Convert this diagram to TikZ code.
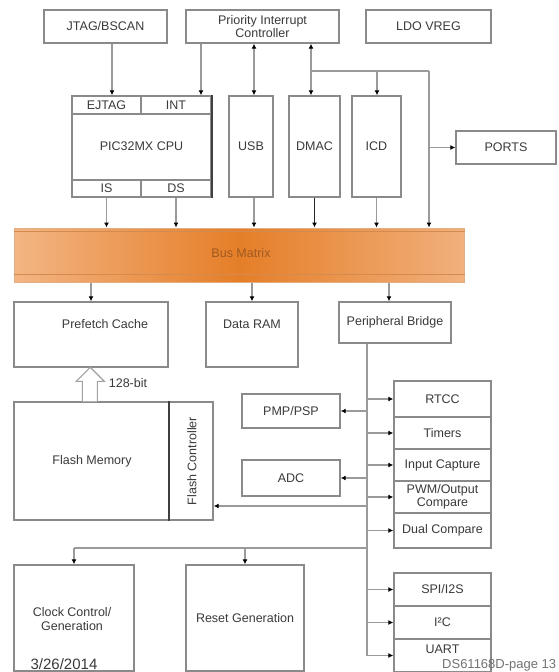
\documentclass[tikz,border=0pt]{standalone}
\usepackage{fontspec}
\setmainfont{Liberation Sans}
\usetikzlibrary{arrows.meta,calc}
\definecolor{boxgray}{HTML}{8A8A8A}
\definecolor{linegray}{HTML}{9A9A9A}
\definecolor{txt}{HTML}{3A3A3A}
\definecolor{busL}{HTML}{F3B583}
\definecolor{busM}{HTML}{E57E28}
\definecolor{busR}{HTML}{F1B07C}
\definecolor{busedge}{HTML}{D38B50}
\definecolor{bustxt}{HTML}{A05A22}
\begin{document}
\begin{tikzpicture}[x=1pt,y=-1pt,
  box/.style={draw=boxgray, line width=1.4pt, fill=white, inner sep=0pt, align=center,
              font=\fontsize{12.5}{13.5}\selectfont, text=txt},
  lbl/.style={inner sep=0pt, align=center, font=\fontsize{12.5}{13.5}\selectfont, text=txt},
  conn/.style={draw=linegray, line width=1.3pt},
  arr/.style={conn, -{Latex[length=5pt,width=5pt,color=black]}},
  arrb/.style={conn, {Latex[length=5pt,width=5pt,color=black]}-{Latex[length=5pt,width=5pt,color=black]}},
  arrk/.style={draw=black!85, line width=1.8pt, -{Latex[length=5pt,width=5pt,color=black]}},
  darkline/.style={draw=black!75, line width=1.6pt}]
\useasboundingbox (0,0) rectangle (558,672);
\fill[white] (0,0) rectangle (558,672);

% lanes
\coordinate (xJ) at (112,0);
\coordinate (xI) at (201,0);
\coordinate (xU) at (254,0);
\coordinate (xD) at (311,0);
\coordinate (xC) at (377,0);
\coordinate (xP) at (429,0);
\coordinate (xB) at (389,0);
\coordinate (xL) at (367,0);
\coordinate (xF) at (169,0);
\coordinate (yT) at (0,71);
\coordinate (yFl) at (0,506);
\coordinate (yClk) at (0,548);

% top row
\node[box, minimum width=123pt, minimum height=33pt] (jtag) at (105.5,26.5) {JTAG/BSCAN};
\node[box, minimum width=153pt, minimum height=33pt] (pic) at (262.5,26.5) {Priority Interrupt\\Controller};
\node[box, minimum width=125pt, minimum height=33pt] (ldo) at (428.5,26.5) {LDO VREG};

% CPU
\node[box, minimum width=139pt, minimum height=101pt] (cpu) at (141.5,146.5) {PIC32MX CPU};
\node[box, minimum width=69pt, minimum height=18pt] (ejtag) at (106.5,105) {EJTAG};
\node[box, minimum width=70pt, minimum height=18pt] (int) at (176,105) {INT};
\node[box, minimum width=69pt, minimum height=17pt] (is) at (106.5,188.5) {IS};
\node[box, minimum width=70pt, minimum height=17pt] (ds) at (176,188.5) {DS};
\draw[darkline] (cpu.north east) -- (cpu.south east);

\node[box, minimum width=44pt, minimum height=101pt] (usb) at (251,146.5) {USB};
\node[box, minimum width=51pt, minimum height=101pt] (dmac) at (314.5,146.5) {DMAC};
\node[box, minimum width=49pt, minimum height=101pt] (icd) at (376.5,146.5) {ICD};
\node[box, minimum width=100pt, minimum height=33pt] (ports) at (506,147.5) {PORTS};

% bus matrix
\node[draw=busedge!70, line width=1pt, left color=busL, right color=busR, middle color=busM,
      minimum width=450pt, minimum height=54pt, inner sep=0pt] (bus) at (239,255) {};
\draw[draw=busedge, line width=1.5pt] ($(bus.north west)+(0,4)$) -- ($(bus.north east)+(0,4)$);
\draw[draw=busedge, line width=1.5pt] ($(bus.south west)+(0,-8)$) -- ($(bus.south east)+(0,-8)$);
\node[lbl, text=bustxt] (buslbl) at (241,253) {Bus Matrix};

% memories
\node[box, minimum width=154pt, minimum height=65pt] (prefetch) at (91,334.5) {};
\node[lbl] (prefetchlbl) at (105,324) {Prefetch Cache};
\node[box, minimum width=92pt, minimum height=65pt] (dataram) at (252,334.5) {};
\node[lbl] (dataramlbl) at (252,324) {Data RAM};
\node[box, minimum width=112pt, minimum height=41pt] (pbridge) at (395,322.5) {Peripheral Bridge};

% flash
\node[box, minimum width=199pt, minimum height=118pt] (flash) at (113.5,461) {};
\node[lbl] (flashlbl) at (92,461) {Flash Memory};
\draw[darkline] (flash.north -| xF) -- (flash.south -| xF);
\node[lbl, rotate=90] (flashctl) at (192,461) {Flash Controller};

% 128-bit wide arrow
\draw[draw=boxgray!80, line width=1.1pt, fill=white]
  ($(flash.north west)+(69,0)$) -- ++(0,-20) -- ++(-6,0) -- ++(14,-14) -- ++(14,14) -- ++(-7,0) -- ++(0,20);
\node[lbl] (bitlbl) at (128,383) {128-bit};

% peripherals left
\node[box, minimum width=98pt, minimum height=34pt] (pmp) at (291,411) {PMP/PSP};
\node[box, minimum width=98pt, minimum height=36pt] (adc) at (291,478) {ADC};

% peripherals right
\node[box, minimum width=97pt, minimum height=36pt] (rtcc) at (442.5,399) {RTCC};
\node[box, minimum width=97pt, minimum height=32pt] (timers) at (442.5,433) {Timers};
\node[box, minimum width=97pt, minimum height=32pt] (icap) at (442.5,465) {Input Capture};
\node[box, minimum width=97pt, minimum height=32pt] (pwm) at (442.5,497) {PWM/Output\\Compare};
\node[box, minimum width=97pt, minimum height=35pt] (dualc) at (442.5,530.5) {Dual Compare};
\node[box, minimum width=97pt, minimum height=33pt] (spi) at (442.5,589.5) {SPI/I2S};
\node[box, minimum width=97pt, minimum height=33pt] (i2c) at (442.5,622.5) {I²C};
\node[box, minimum width=97pt, minimum height=33pt] (uart) at (442.5,655.5) {};
\node[lbl] (uartlbl) at (442.5,649) {UART};

% clock / reset
\node[box, minimum width=120pt, minimum height=106pt] (clock) at (74,618) {};
\node[lbl] (clocklbl) at (72,619) {Clock Control/\\Generation};
\node[lbl, font=\fontsize{15}{16}\selectfont] (datelbl) at (64,664) {3/26/2014};
\node[box, minimum width=118pt, minimum height=106pt] (reset) at (245,618) {Reset Generation};

% connectors top
\draw[arr] (jtag.south -| xJ) -- (ejtag.north -| xJ);
\draw[arr] (pic.south -| xI) -- (int.north -| xI);
\draw[arrb] (pic.south -| xU) -- (usb.north -| xU);
\draw[conn] (xD |- yT) -- (xP |- yT);
\draw[arr] (xD |- yT) -- (pic.south -| xD);
\draw[arr] (xD |- yT) -- (dmac.north -| xD);
\draw[arr] (xC |- yT) -- (icd.north -| xC);
\draw[arr] (xP |- yT) -- (bus.north -| xP);
\draw[arr] (xP |- ports.west) -- (ports.west);

% to bus
\draw[arr] (is.south) -- (bus.north -| is.south);
\draw[arr] (ds.south) -- (bus.north -| ds.south);
\draw[arr] (usb.south -| xU) -- (bus.north -| xU);
\draw[arrk] (dmac.south) -- (bus.north -| dmac.south);
\draw[arr] (icd.south) -- (bus.north -| icd.south);

% from bus
\draw[arr] (bus.south -| prefetch.north) -- (prefetch.north);
\draw[arr] (bus.south -| dataram.north) -- (dataram.north);
\draw[arr] (bus.south -| xB) -- (pbridge.north -| xB);

% peripheral bus
\draw[conn] (pbridge.south -| xL) -- (xL |- uart.west);
\foreach \n in {rtcc,timers,icap,pwm,dualc,spi,i2c,uart}
  \draw[arr] (xL |- \n.west) -- (\n.west);
\draw[arr] (xL |- pmp.east) -- (pmp.east);
\draw[arr] (xL |- adc.east) -- (adc.east);
\draw[arr] (xL |- yFl) -- (flash.east |- yFl);
\draw[conn] (xL |- yClk) -- (clock.north |- yClk);
\draw[arr] (clock.north |- yClk) -- (clock.north);
\draw[arr] (reset.north |- yClk) -- (reset.north);

\node[lbl, anchor=west, text=black!55, font=\fontsize{13}{14}\selectfont] (dslbl) at (442,665.5) {DS61168D-page 13};
\end{tikzpicture}
\end{document}
